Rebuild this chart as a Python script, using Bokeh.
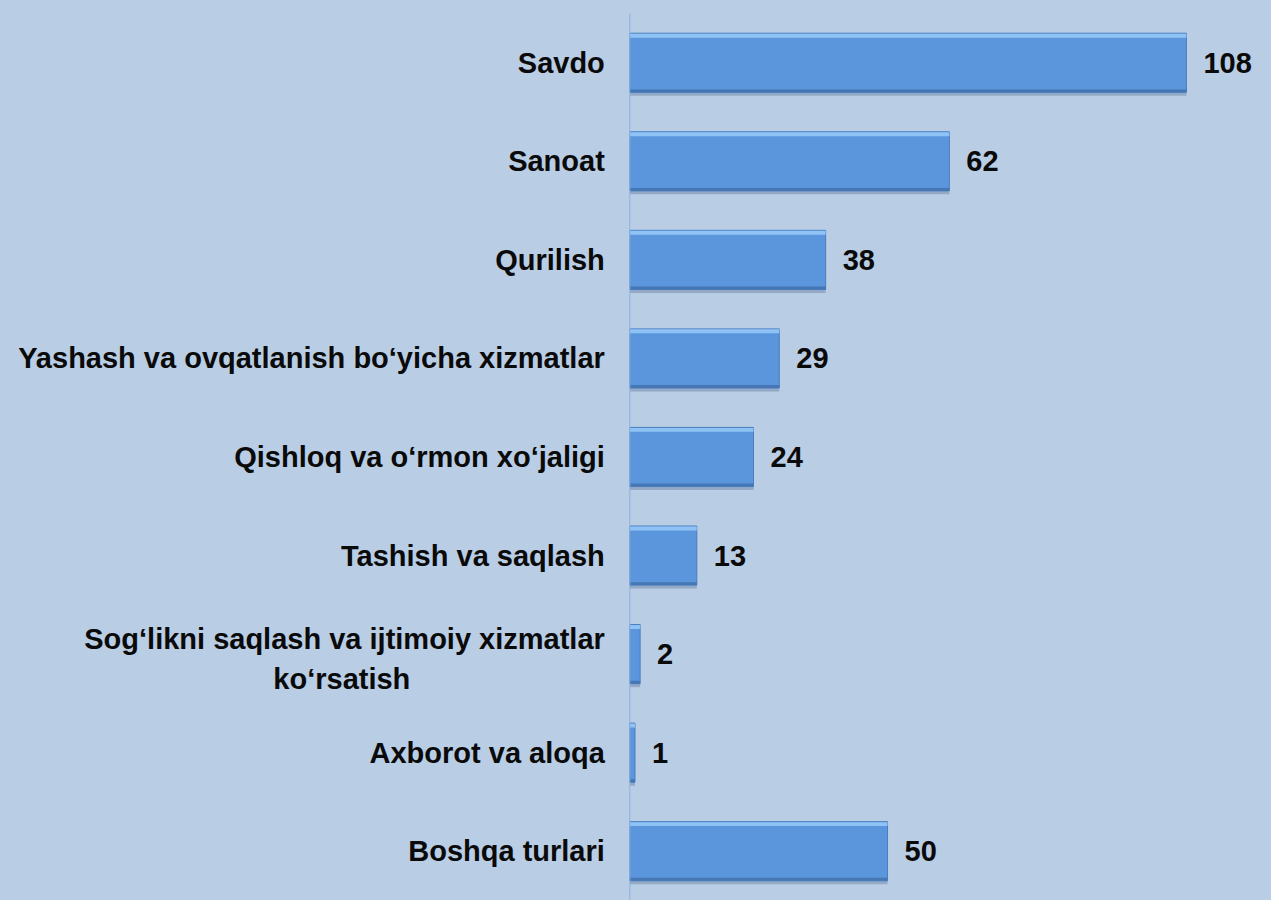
from bokeh.plotting import figure
from bokeh.models import ColumnDataSource, FactorRange, Range1d, Span
from bokeh.transform import dodge
from bokeh.core.properties import value
from bokeh.embed import file_html
from bokeh.resources import INLINE

categories = [
    "Savdo",
    "Sanoat",
    "Qurilish",
    "Yashash va ovqatlanish bo‘yicha xizmatlar",
    "Qishloq va o‘rmon xo‘jaligi",
    "Tashish va saqlash",
    "Sog‘likni saqlash va ijtimoiy xizmatlar ko‘rsatish",
    "Axborot va aloqa",
    "Boshqa turlari",
]
values = [108, 62, 38, 29, 24, 13, 2, 1, 50]
value_labels = [str(v) for v in values]

# the one long category is shown on two lines, second line centred
long_cat = categories[6]
long_line1 = "Sog‘likni saqlash va ijtimoiy xizmatlar"
long_line2 = "ko‘rsatish"
cat_labels = ["" if c == long_cat else c for c in categories]

BG = "#b9cde5"
BAR = "#5b96dc"
FONT = "Liberation Sans"
FSIZE = "29px"
TCOL = "#0a0a0a"

src = ColumnDataSource(dict(cat=categories, val=values, lab=value_labels, clab=cat_labels,
                            x0=[0] * len(categories)))

# the left part of the x range holds the category labels (drawn as text)
p = figure(
    width=1271, height=900,
    y_range=FactorRange(*reversed(categories)),
    x_range=Range1d(-122.1, 124.5),
    output_backend="svg", toolbar_location=None,
    min_border_left=0, min_border_right=0, min_border_top=13, min_border_bottom=0,
)
p.styles = {"background-color": BG}
p.background_fill_color = BG
p.border_fill_color = BG
p.outline_line_color = None
p.xgrid.visible = False
p.ygrid.visible = False
p.xaxis.visible = False
p.yaxis.visible = False

# axis line at zero
p.add_layout(Span(location=0, dimension="height", line_color="#8db4e2", line_width=1))

# shadow
p.hbar(y=dodge("cat", -0.035, range=p.y_range), right="val", left=0, height=0.6, source=src,
       fill_color="#6d86a6", fill_alpha=0.5, line_color=None)
# main bar
p.hbar(y="cat", right="val", left=0, height=0.6, source=src,
       fill_color=BAR, line_color="#4a7fc0", line_width=1)
# top highlight
p.hbar(y=dodge("cat", 0.275, range=p.y_range), right="val", left=0, height=0.04, source=src,
       fill_color="#8fc3f5", line_color=None)
# bottom darker edge
p.hbar(y=dodge("cat", -0.285, range=p.y_range), right="val", left=0, height=0.03, source=src,
       fill_color="#4577b5", line_color=None)

# value labels
p.text(x="val", y="cat", text="lab", source=src, x_offset=17,
       text_baseline="middle", text_align="left",
       text_font=value(FONT), text_font_style="bold",
       text_font_size=FSIZE, text_color=TCOL)

# category labels
p.text(x="x0", y="cat", text="clab", source=src, x_offset=-25,
       text_baseline="middle", text_align="right",
       text_font=value(FONT), text_font_style="bold",
       text_font_size=FSIZE, text_color=TCOL)
p.text(x=[0], y=[long_cat], text=[long_line1], x_offset=-25, y_offset=-15,
       text_baseline="middle", text_align="right",
       text_font=value(FONT), text_font_style="bold",
       text_font_size=FSIZE, text_color=TCOL)
p.text(x=[0], y=[long_cat], text=[long_line2], x_offset=-288, y_offset=25,
       text_baseline="middle", text_align="center",
       text_font=value(FONT), text_font_style="bold",
       text_font_size=FSIZE, text_color=TCOL)

open("out.html", "w").write(file_html(p, INLINE))
